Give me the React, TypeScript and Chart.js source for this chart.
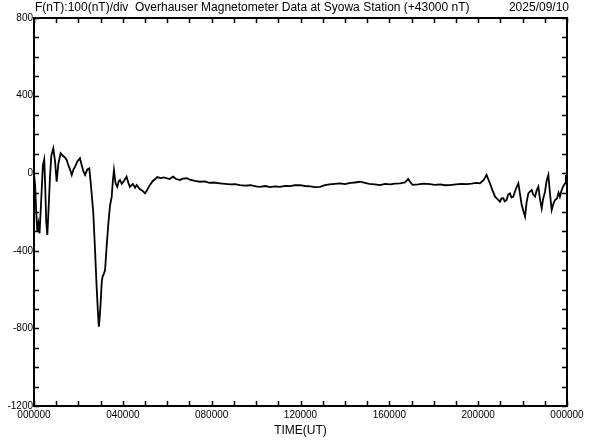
import React, { useEffect, useRef } from "react";
import { Chart, registerables } from "chart.js";

Chart.register(...registerables);

const titleLeft = "F(nT):100(nT)/div  Overhauser Magnetometer Data at Syowa Station (+43000 nT)";
const titleRight = "2025/09/10";
const xAxisTitle = "TIME(UT)";

const xTickLabels = ["000000", "040000", "080000", "120000", "160000", "200000", "000000"];

// time in hours (UT)
const times = [
  0.0, 0.05, 0.1, 0.15, 0.2, 0.25, 0.32, 0.4, 0.46, 0.5, 0.55, 0.6, 0.65, 0.72, 0.78, 0.87, 0.95, 1.02, 1.1, 1.2,
  1.3, 1.4, 1.47, 1.55, 1.62, 1.7, 1.78, 1.85, 1.95, 2.07, 2.15, 2.22, 2.3, 2.4, 2.49, 2.57, 2.67, 2.75, 2.82, 2.88,
  2.92, 2.96, 3.0, 3.05, 3.09, 3.14, 3.2, 3.27, 3.35, 3.42, 3.5, 3.55, 3.6, 3.67, 3.75, 3.82, 3.87, 3.95, 4.05, 4.17,
  4.25, 4.32, 4.45, 4.55, 4.62, 4.75, 4.88, 5.0, 5.1, 5.22, 5.35, 5.45, 5.55, 5.7, 5.85, 5.97, 6.1, 6.26, 6.4, 6.57,
  6.7, 6.88, 7.05, 7.25, 7.47, 7.7, 7.9, 8.1, 8.37, 8.6, 8.85, 9.05, 9.27, 9.5, 9.75, 10.0, 10.18, 10.4, 10.65, 10.85,
  11.08, 11.3, 11.55, 11.75, 11.98, 12.2, 12.45, 12.65, 12.88, 13.1, 13.3, 13.55, 13.78, 14.0, 14.25, 14.45, 14.68, 14.9, 15.1, 15.35,
  15.58, 15.8, 16.05, 16.25, 16.48, 16.7, 16.85, 16.93, 17.05, 17.3, 17.55, 17.83, 18.05, 18.3, 18.5, 18.73, 19.0, 19.25, 19.48, 19.7,
  19.9, 20.08, 20.25, 20.38, 20.45, 20.53, 20.65, 20.76, 20.88, 20.98, 21.05, 21.13, 21.2, 21.28, 21.35, 21.43, 21.5, 21.58, 21.7, 21.81,
  21.9, 21.96, 22.05, 22.11, 22.18, 22.26, 22.33, 22.41, 22.48, 22.56, 22.63, 22.71, 22.78, 22.86, 22.93, 23.01, 23.08, 23.16, 23.23, 23.31,
  23.38, 23.46, 23.55, 23.62, 23.68, 23.75, 23.82, 23.91, 23.95, 24.0,
];

// total field deviation in nT (+43000 nT)
const values = [
  -5, -60, -200, -300, -260, -310, -150, 40, 70, -50, -250, -318, -200, -20, 90, 128, 60, -44, 50, 103,
  90, 80, 68, 40, 20, -9, 20, 34, 60, 77, 40, 10, -9, 20, 25, -70, -205, -400, -585, -720,
  -791, -740, -669, -560, -533, -520, -499, -380, -257, -170, -121, -40, 16, -50, -70, -40, -35, -55, -40, -18,
  -50, -70, -55, -75, -61, -80, -90, -104, -85, -61, -40, -31, -20, -25, -22, -26, -30, -18, -30, -35,
  -28, -26, -35, -40, -44, -42, -50, -48, -52, -55, -58, -56, -61, -64, -62, -68, -70, -66, -72, -68,
  -70, -65, -67, -62, -61, -66, -68, -72, -70, -62, -58, -55, -52, -56, -50, -48, -44, -50, -55, -58,
  -61, -55, -58, -54, -52, -48, -30, -44, -60, -58, -54, -56, -60, -58, -62, -61, -58, -55, -56, -54,
  -50, -52, -35, -9, -30, -52, -90, -121, -135, -147, -130, -129, -145, -138, -110, -104, -125, -121, -80, -52,
  -120, -164, -200, -224, -150, -104, -95, -87, -110, -121, -90, -70, -130, -181, -130, -95, -40, -9, -100, -190,
  -160, -138, -130, -100, -121, -90, -70, -52, -9, -40,
];

const FONT = "'Liberation Sans', Arial, sans-serif";

export default function App() {
  const ref = useRef<HTMLCanvasElement | null>(null);

  useEffect(() => {
    if (!ref.current) return;
    const framePlugin = {
      id: "frame",
      afterDraw(chart: any) {
        const { ctx, chartArea } = chart;
        const xs = chart.scales.x;
        const ys = chart.scales.y;
        const { left, right, top, bottom } = chartArea;
        ctx.save();
        ctx.strokeStyle = "#000";
        ctx.lineWidth = 2;
        ctx.strokeRect(left, top, right - left, bottom - top);
        ctx.lineWidth = 1.5;
        ctx.beginPath();
        for (let h = 0; h <= 24; h++) {
          const px = Math.round(xs.getPixelForValue(h)) + 0.5;
          ctx.moveTo(px, top);
          ctx.lineTo(px, top + 5);
          ctx.moveTo(px, bottom);
          ctx.lineTo(px, bottom - 5);
        }
        for (let v = -1200; v <= 800; v += 100) {
          const py = Math.round(ys.getPixelForValue(v)) + 0.5;
          ctx.moveTo(left, py);
          ctx.lineTo(left + 5, py);
          ctx.moveTo(right, py);
          ctx.lineTo(right - 5, py);
        }
        ctx.stroke();
        ctx.fillStyle = "#000";
        ctx.font = `12px ${FONT}`;
        ctx.textBaseline = "middle";
        ctx.textAlign = "left";
        ctx.fillText(titleLeft, 35, 8);
        ctx.textAlign = "right";
        ctx.fillText(titleRight, 569, 8);
        ctx.restore();
      },
    };

    const chart = new Chart(ref.current, {
      type: "line",
      data: {
        datasets: [
          {
            data: times.map((t, i) => ({ x: t, y: values[i] })),
            borderColor: "#000",
            borderWidth: 1.8,
            pointRadius: 0,
            tension: 0,
            fill: false,
          },
        ],
      },
      options: {
        animation: false,
        responsive: false,
        layout: { padding: { top: 18, right: 25, left: 0, bottom: 0 } },
        plugins: { legend: { display: false }, tooltip: { enabled: false } },
        scales: {
          x: {
            type: "linear",
            min: 0,
            max: 24,
            afterFit: (s: any) => {
              s.height = 34;
            },
            grid: { display: false, drawTicks: false },
            border: { display: false },
            ticks: {
              stepSize: 4,
              autoSkip: false,
              maxRotation: 0,
              padding: 3,
              color: "#000",
              font: { size: 10, family: FONT },
              callback: (v: any) => xTickLabels[Math.round(Number(v) / 4)] ?? "",
            },
            title: {
              display: true,
              text: xAxisTitle,
              color: "#000",
              font: { size: 12, family: FONT },
              padding: { top: 0, bottom: 2 },
            },
          },
          y: {
            min: -1200,
            max: 800,
            afterFit: (s: any) => {
              s.width = 34;
            },
            grid: { display: false, drawTicks: false },
            border: { display: false },
            ticks: {
              stepSize: 400,
              padding: 1,
              color: "#000",
              font: { size: 10, family: FONT },
              callback: (v: any) => String(v),
            },
          },
        },
      },
      plugins: [framePlugin],
    });
    return () => chart.destroy();
  }, []);

  return (
    <div style={{ position: "fixed", left: 0, top: 0, width: 592, height: 440, background: "#fff" }}>
      <canvas ref={ref} width={592} height={440} style={{ width: 592, height: 440 }} />
    </div>
  );
}
